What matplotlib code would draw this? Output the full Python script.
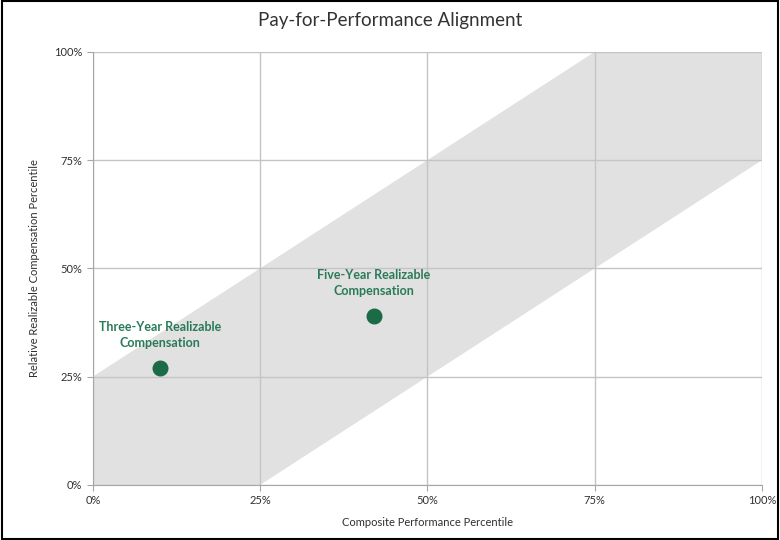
import matplotlib
matplotlib.use("Agg")
import matplotlib.pyplot as plt
from matplotlib.patches import Rectangle
from matplotlib.ticker import PercentFormatter

plt.rcParams["font.family"] = ["Lato", "DejaVu Sans"]

# band of alignment: +/- 25 points around the diagonal
band_x = [0, 100]
band_lo = [-25, 75]
band_hi = [25, 125]

labels = ["Three-Year Realizable\nCompensation", "Five-Year Realizable\nCompensation"]
perf = [10, 42]
comp = [27, 39]
ticks = [0, 25, 50, 75, 100]

GREEN = "#1b6b47"
TEXT_GREEN = "#2a7a5a"

fig = plt.figure(figsize=(7.8, 5.4), dpi=100)
ax = fig.add_axes([0.119, 0.102, 0.858, 0.802])

ax.fill_between(band_x, band_lo, band_hi, color="#e1e1e1", zorder=0, linewidth=0)

ax.set_xlim(0, 100)
ax.set_ylim(0, 100)
ax.set_xticks(ticks)
ax.set_yticks(ticks)
ax.xaxis.set_major_formatter(PercentFormatter(decimals=0))
ax.yaxis.set_major_formatter(PercentFormatter(decimals=0))
ax.grid(True, color="#c4c4c4", linewidth=1.0, zorder=1)
ax.set_axisbelow(True)
for side in ["top", "right"]:
    ax.spines[side].set_visible(False)
for side in ["left", "bottom"]:
    ax.spines[side].set_color("#a6a6a6")
ax.tick_params(length=4, color="#a6a6a6", labelsize=8, labelcolor="#303030")

ax.scatter(perf, comp, s=110, color=GREEN, zorder=4, clip_on=False)
for x, y, t in zip(perf, comp, labels):
    ax.annotate(t, (x, y), xytext=(0, 14), textcoords="offset points",
                ha="center", va="bottom", fontsize=9, fontweight="bold",
                color=TEXT_GREEN, linespacing=1.35)

ax.set_xlabel("Composite Performance Percentile", fontsize=8, color="#303030", labelpad=8)
ax.set_ylabel("Relative Realizable Compensation Percentile", fontsize=8, color="#303030", labelpad=10)
fig.text(0.5, 0.962, "Pay-for-Performance Alignment", ha="center", va="center",
         fontsize=13.5, color="#333333")

fig.patches.append(Rectangle((0.002, 0.002), 0.996, 0.996, transform=fig.transFigure,
                             fill=False, edgecolor="black", linewidth=1.5))

fig.savefig("out.png", dpi=100, facecolor="white")
